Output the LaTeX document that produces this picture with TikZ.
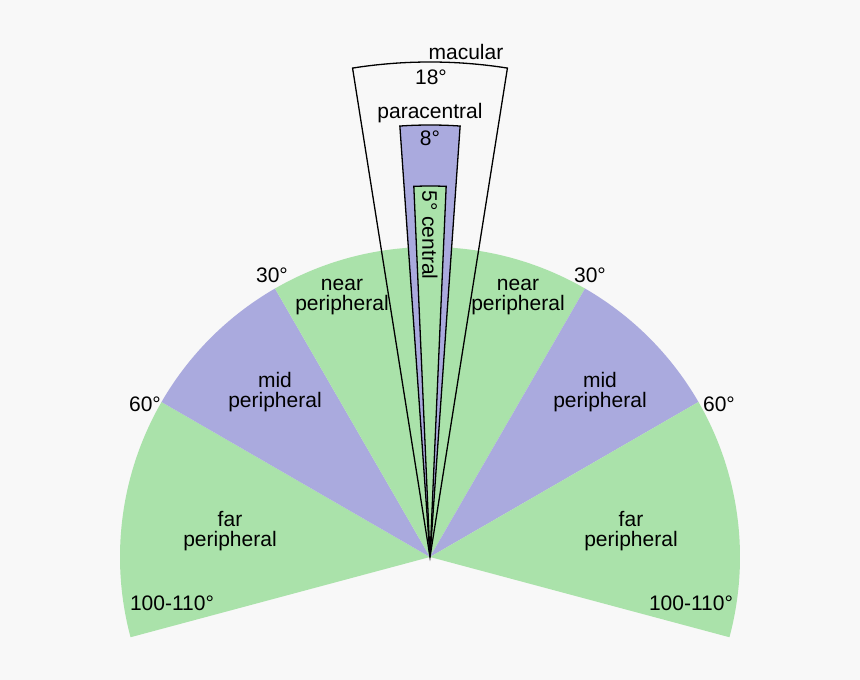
\documentclass[tikz,border=0pt]{standalone}
\usepackage{fontspec}
\setmainfont{Liberation Sans}
\definecolor{bgc}{RGB}{248,248,248}
\definecolor{fgreen}{RGB}{170,226,170}
\definecolor{fpurple}{RGB}{170,170,222}
\begin{document}
\begin{tikzpicture}[x=1pt,y=1pt,
  lbl/.style={font=\fontsize{21}{20.5}\selectfont, align=center, inner sep=0pt, text=black},
  wedge/.style={draw=black, line width=1.3pt, line join=miter}]
\fill[bgc] (-430,-123) rectangle (430,557);
\useasboundingbox (-430,-123) rectangle (430,557);
\coordinate (O) at (0,0);
% big fan
\fill[fgreen] (O) -- (150:310) arc[start angle=150,end angle=195,radius=310] -- cycle;
\fill[fpurple] (O) -- (120:310) arc[start angle=120,end angle=150,radius=310] -- cycle;
\fill[fgreen] (O) -- (60:310) arc[start angle=60,end angle=120,radius=310] -- cycle;
\fill[fpurple] (O) -- (30:310) arc[start angle=30,end angle=60,radius=310] -- cycle;
\fill[fgreen] (O) -- (-15:310) arc[start angle=-15,end angle=30,radius=310] -- cycle;
% macular
\draw[wedge] (O) -- (81:495) arc[start angle=81,end angle=99,radius=495] -- cycle;
% paracentral
\draw[wedge, fill=fpurple] (O) -- (86:432) arc[start angle=86,end angle=94,radius=432] -- cycle;
% central
\draw[wedge, fill=fgreen] (O) -- (87.5:371) arc[start angle=87.5,end angle=92.5,radius=371] -- cycle;
% labels
\node[lbl] (mac) at (36,505) {macular};
\node[lbl] (mac18) at (1,480) {18°};
\node[lbl] (para) at (0,444) {paracentral};
\node[lbl] (para8) at (0,419) {8°};
\node[lbl, rotate=-90] (cen) at (0,322) {5° central};
\node[lbl] (l30) at (-158,282) {30°};
\node[lbl] (r30) at (160,282) {30°};
\node[lbl] (l60) at (-285,153) {60°};
\node[lbl] (r60) at (289,153) {60°};
\node[lbl] (l100) at (-258,-46) {100-110°};
\node[lbl] (r100) at (261,-46) {100-110°};
\node[lbl] (lnear) at (-88,260) {near\\peripheral};
\node[lbl] (rnear) at (88,260) {near\\peripheral};
\node[lbl] (lmid) at (-155,165) {mid\\peripheral};
\node[lbl] (rmid) at (170,165) {mid\\peripheral};
\node[lbl] (lfar) at (-200,26) {far\\peripheral};
\node[lbl] (rfar) at (201,26) {far\\peripheral};
\end{tikzpicture}
\end{document}
